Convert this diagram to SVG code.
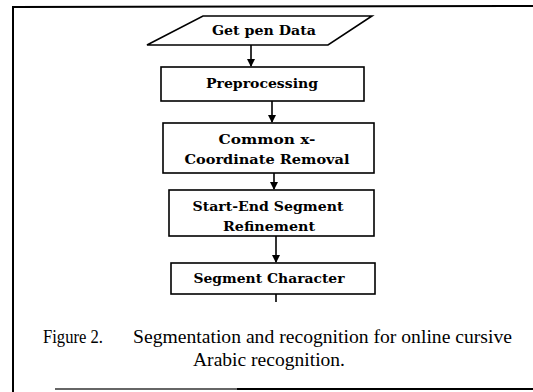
<svg xmlns="http://www.w3.org/2000/svg" width="533" height="392" viewBox="0 0 533 392">
  <style>
    .shape { fill: #fff; stroke: #000; stroke-width: 1.6; }
    .frame { fill: none; stroke: #000; stroke-width: 2; }
    .link { fill: none; stroke: #000; stroke-width: 1.6; }
    .lbl { font-family: "DejaVu Serif", "Liberation Serif", serif; font-weight: bold; font-size: 13.5px; text-anchor: middle; fill: #000; }
    .cap { font-family: "Liberation Serif", "Times New Roman", serif; font-size: 18px; fill: #000; }
  </style>
  <defs>
    <marker id="arrow" markerWidth="8" markerHeight="8" refX="7" refY="4" orient="auto" markerUnits="userSpaceOnUse">
      <path d="M0,0 L8,4 L0,8 Z" fill="#000"/>
    </marker>
  </defs>
  <rect width="533" height="392" fill="#fff"/>

  <!-- outer figure frame -->
  <path class="frame" d="M13,392 L13,7 L533,6"/>
  <path d="M55,389 L533,389" stroke="#333" stroke-width="1.5"/>
  <path d="M237,389 L533,389" stroke="#000" stroke-width="2"/>

  <!-- connectors -->
  <g id="connectors">
    <path class="link" d="M251,45 L251,66" marker-end="url(#arrow)"/>
    <path class="link" d="M272,101 L272,122" marker-end="url(#arrow)"/>
    <path class="link" d="M274,173 L274,189" marker-end="url(#arrow)"/>
    <path class="link" d="M276,236 L276,262" marker-end="url(#arrow)"/>
    <path class="link" d="M276,294 L276,302"/>
  </g>

  <g id="get-pen-data">
    <polygon class="shape" points="203,16 372,16 328,45 147,45"/>
    <text class="lbl" x="264" y="35" textLength="104" lengthAdjust="spacingAndGlyphs">Get pen Data</text>
  </g>

  <g id="preprocessing">
    <rect class="shape" x="161" y="67" width="203" height="34"/>
    <text class="lbl" x="262" y="88" textLength="112" lengthAdjust="spacingAndGlyphs">Preprocessing</text>
  </g>

  <g id="common-x-removal">
    <rect class="shape" x="163" y="123" width="211" height="50"/>
    <text class="lbl" x="267" y="144" textLength="97" lengthAdjust="spacingAndGlyphs">Common x-</text>
    <text class="lbl" x="267" y="164" textLength="165" lengthAdjust="spacingAndGlyphs">Coordinate Removal</text>
  </g>

  <g id="start-end-refinement">
    <rect class="shape" x="169" y="190" width="205" height="46"/>
    <text class="lbl" x="268" y="211" textLength="151" lengthAdjust="spacingAndGlyphs">Start-End Segment</text>
    <text class="lbl" x="269" y="231" textLength="92" lengthAdjust="spacingAndGlyphs">Refinement</text>
  </g>

  <g id="segment-character">
    <rect class="shape" x="171" y="263" width="204" height="31"/>
    <text class="lbl" x="269" y="283" textLength="151" lengthAdjust="spacingAndGlyphs">Segment Character</text>
  </g>

  <!-- caption -->
  <text class="cap" x="43" y="343" textLength="60" lengthAdjust="spacingAndGlyphs">Figure 2.</text>
  <text class="cap" x="133" y="343" textLength="379" lengthAdjust="spacingAndGlyphs">Segmentation and recognition for online cursive</text>
  <text class="cap" x="193" y="366" textLength="152" lengthAdjust="spacingAndGlyphs">Arabic recognition.</text>
</svg>
